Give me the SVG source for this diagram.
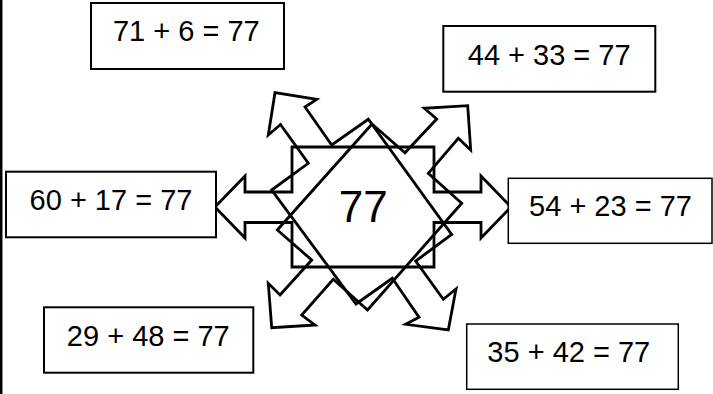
<svg xmlns="http://www.w3.org/2000/svg" width="713" height="394" viewBox="0 0 713 394">
<style>
.box{fill:#fff;stroke:#000;stroke-width:2}
.thin{stroke-width:1.5}
.lbl{font-family:"Liberation Sans",Arial,sans-serif;font-size:29px;fill:#000;text-anchor:middle}
.arr{fill:none;stroke:#000;stroke-width:2.8;stroke-linejoin:miter}
</style>
<rect width="713" height="394" fill="#fff"/>
<line x1="1.2" y1="0" x2="1.2" y2="394" stroke="#000" stroke-width="2.5"/>
<g id="connectors">
<polygon class="arr" points="292,147 434,147 434,192 481,192 481,176 511,207 481,238 481,222.5 434,222.5 434,267 292,267 292,222.5 245,222.5 245,238 215,207 245,176 245,192 292,192"/>
<polygon class="arr" points="271.7,190 308.3,163.3 280.5,124.5 268.3,135 275,92.7 316.7,99.3 305,107 331.7,145 368.3,119.3 451.7,234.5 415.7,261 443.3,299.3 456,289 448.3,330 405.7,324.3 419,317.3 392.3,278.3 356,304"/>
<polygon class="arr" points="372,124 405,152.7 436.7,119 424.3,108.3 467.7,105.7 470.7,150 458.3,138.3 428.3,173.3 461.7,203.3 367.5,310 333.3,279.3 301.7,315 315,325 271.7,327.7 268.3,283.3 280,295 311.7,260 277.3,230"/>
</g>
<g id="center"><text x="363.3" y="221.7" style="font-family:'Liberation Sans',Arial,sans-serif;font-size:44px;text-anchor:middle">77</text></g>
<g id="n1"><rect class="box" x="91" y="3" width="193" height="66"/><text class="lbl" x="186.3" y="41">71 + 6 = 77</text></g>
<g id="n2"><rect class="box" x="443.3" y="26" width="212" height="65.7"/><text class="lbl" x="549.2" y="65">44 + 33 = 77</text></g>
<g id="n3"><rect class="box" x="6" y="171.7" width="210" height="65.6"/><text class="lbl" x="111" y="210">60 + 17 = 77</text></g>
<g id="n4"><rect class="box thin" x="508.3" y="178.3" width="203.7" height="65"/><text class="lbl" x="610.5" y="215.7">54 + 23 = 77</text></g>
<g id="n5"><rect class="box" x="44" y="307.3" width="209.3" height="65.4"/><text class="lbl" x="148.3" y="346">29 + 48 = 77</text></g>
<g id="n6"><rect class="box thin" x="466.7" y="324" width="211.6" height="65.3"/><text class="lbl" x="568.8" y="362.3">35 + 42 = 77</text></g>
</svg>
